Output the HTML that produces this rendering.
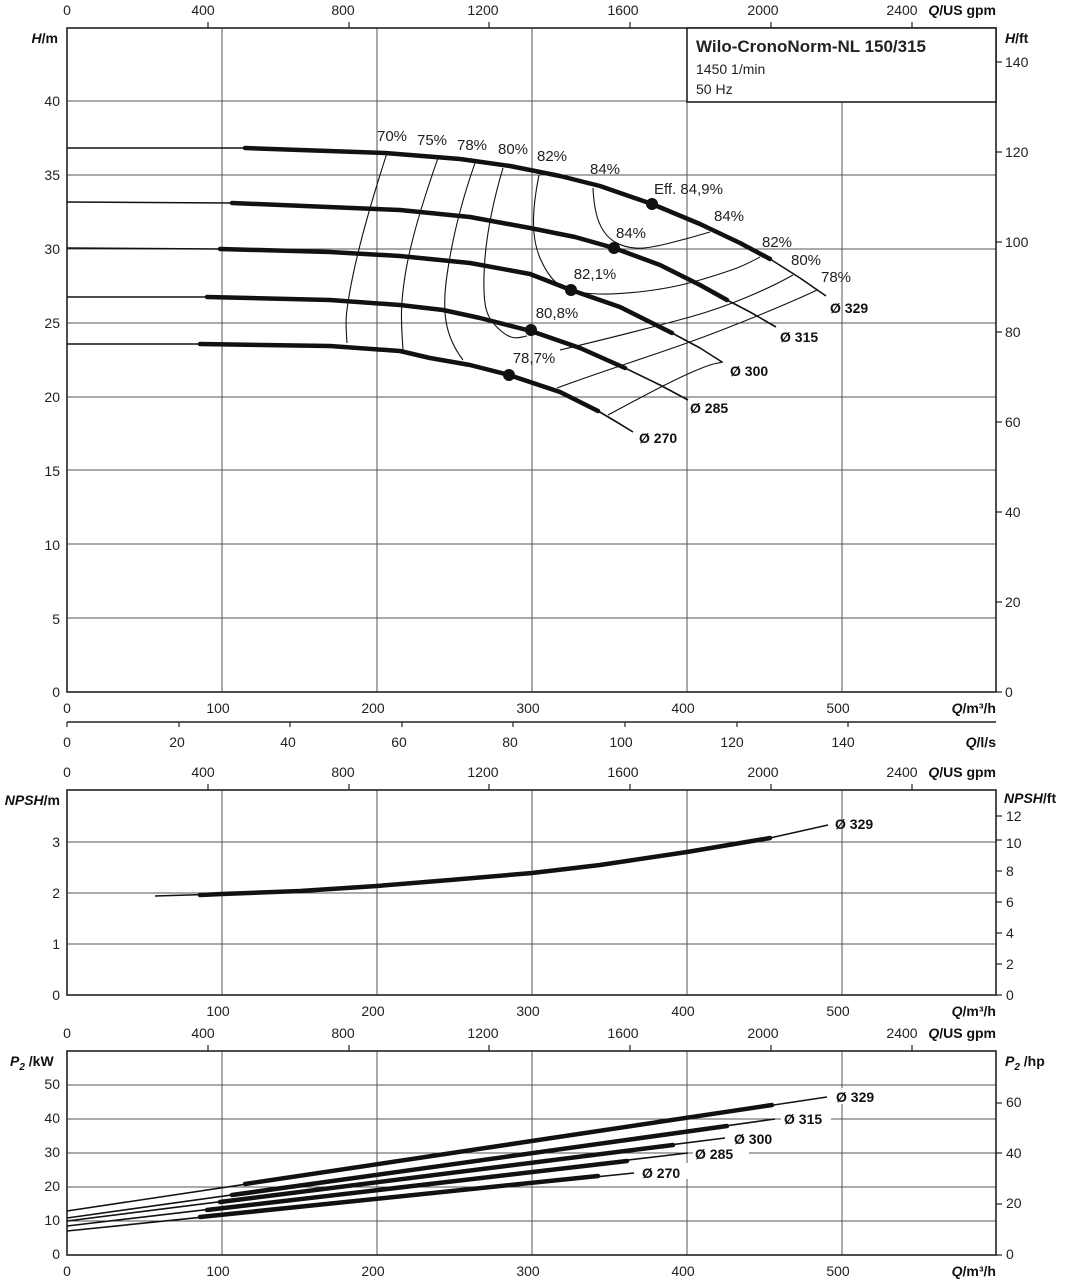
<!DOCTYPE html>
<html><head><meta charset="utf-8"><style>
html,body{margin:0;padding:0;background:#fff}
svg{display:block;font-family:"Liberation Sans","DejaVu Sans",sans-serif}
.g{stroke:#555;stroke-width:1;fill:none}
.ax{stroke:#222;stroke-width:1.6;fill:none}
.t{font-size:14px;fill:#222}
.b{font-size:14px;fill:#111;font-weight:bold}
.th{stroke:#111;stroke-width:1.6;fill:none;stroke-linejoin:round}
.tk{stroke:#111;stroke-width:4.5;fill:none;stroke-linejoin:round;stroke-linecap:round}
.e{stroke:#111;stroke-width:1.1;fill:none;stroke-linejoin:round}
</style></head><body>
<svg width="1065" height="1280" viewBox="0 0 1065 1280">
<!-- ================= MAIN H chart ================= -->
<g class="g">
<line x1="222" y1="28" x2="222" y2="692"/><line x1="377" y1="28" x2="377" y2="692"/><line x1="532" y1="28" x2="532" y2="692"/><line x1="687" y1="28" x2="687" y2="692"/><line x1="842" y1="102" x2="842" y2="692"/>
<line x1="67" y1="618" x2="996" y2="618"/><line x1="67" y1="544" x2="996" y2="544"/><line x1="67" y1="470" x2="996" y2="470"/><line x1="67" y1="397" x2="996" y2="397"/><line x1="67" y1="323" x2="996" y2="323"/><line x1="67" y1="249" x2="996" y2="249"/><line x1="67" y1="175" x2="996" y2="175"/><line x1="67" y1="101" x2="996" y2="101"/>
</g>
<rect x="67" y="28" width="929" height="664" class="ax"/>
<rect x="687" y="28" width="309" height="74" fill="#fff" stroke="#222" stroke-width="1.6"/>
<text x="696" y="52" style="font-size:17px;font-weight:bold;fill:#222">Wilo-CronoNorm-NL 150/315</text>
<text x="696" y="74" class="t">1450 1/min</text>
<text x="696" y="94" class="t">50 Hz</text>
<g class="ax" style="stroke-width:1.2"><line x1="208" y1="22" x2="208" y2="28"/><line x1="349" y1="22" x2="349" y2="28"/><line x1="489" y1="22" x2="489" y2="28"/><line x1="630" y1="22" x2="630" y2="28"/><line x1="771" y1="22" x2="771" y2="28"/><line x1="912" y1="22" x2="912" y2="28"/>
<line x1="996" y1="62" x2="1002" y2="62"/><line x1="996" y1="152" x2="1002" y2="152"/><line x1="996" y1="242" x2="1002" y2="242"/><line x1="996" y1="332" x2="1002" y2="332"/><line x1="996" y1="422" x2="1002" y2="422"/><line x1="996" y1="512" x2="1002" y2="512"/><line x1="996" y1="602" x2="1002" y2="602"/><line x1="996" y1="692" x2="1002" y2="692"/></g>
<g class="t" text-anchor="middle"><text x="67" y="15">0</text><text x="203" y="15">400</text><text x="343" y="15">800</text><text x="483" y="15">1200</text><text x="623" y="15">1600</text><text x="763" y="15">2000</text><text x="902" y="15">2400</text></g>
<text x="996" y="15" class="b" text-anchor="end"><tspan font-style="italic">Q</tspan>/US gpm</text>
<text x="58" y="43" class="b" text-anchor="end"><tspan font-style="italic">H</tspan>/m</text>
<text x="1005" y="43" class="b"><tspan font-style="italic">H</tspan>/ft</text>
<g class="t" text-anchor="end"><text x="60" y="697">0</text><text x="60" y="624">5</text><text x="60" y="550">10</text><text x="60" y="476">15</text><text x="60" y="402">20</text><text x="60" y="328">25</text><text x="60" y="254">30</text><text x="60" y="180">35</text><text x="60" y="106">40</text></g>
<g class="t"><text x="1005" y="697">0</text><text x="1005" y="607">20</text><text x="1005" y="517">40</text><text x="1005" y="427">60</text><text x="1005" y="337">80</text><text x="1005" y="247">100</text><text x="1005" y="157">120</text><text x="1005" y="67">140</text></g>
<g class="t" text-anchor="middle"><text x="67" y="713">0</text><text x="218" y="713">100</text><text x="373" y="713">200</text><text x="528" y="713">300</text><text x="683" y="713">400</text><text x="838" y="713">500</text></g>
<text x="996" y="713" class="b" text-anchor="end"><tspan font-style="italic">Q</tspan>/m³/h</text>
<line x1="67" y1="722" x2="996" y2="722" class="ax"/>
<g class="ax" style="stroke-width:1.2"><line x1="67" y1="722" x2="67" y2="727"/><line x1="179" y1="722" x2="179" y2="727"/><line x1="290" y1="722" x2="290" y2="727"/><line x1="402" y1="722" x2="402" y2="727"/><line x1="513" y1="722" x2="513" y2="727"/><line x1="625" y1="722" x2="625" y2="727"/><line x1="737" y1="722" x2="737" y2="727"/><line x1="848" y1="722" x2="848" y2="727"/></g>
<g class="t" text-anchor="middle"><text x="67" y="747">0</text><text x="177" y="747">20</text><text x="288" y="747">40</text><text x="399" y="747">60</text><text x="510" y="747">80</text><text x="621" y="747">100</text><text x="732" y="747">120</text><text x="843" y="747">140</text></g>
<text x="996" y="747" class="b" text-anchor="end"><tspan font-style="italic">Q</tspan>/l/s</text>

<g class="e">
<path d="M387,153 C375,190 360,240 352,280 S346,325 347,343"/>
<path d="M438,158 C425,195 412,235 406,270 S401,320 403,350"/>
<path d="M475,163 C462,200 452,240 447,275 S444,335 463,360"/>
<path d="M503,168 C492,205 485,240 484,275 S487,318 500,330 S520,337 527,336"/>
<path d="M539,175 C533,205 530,235 540,258 S560,290 585,293 S660,292 700,280 S745,265 760,257"/>
<path d="M593,188 C594,210 598,232 615,242 S650,248 670,243 S700,235 710,232"/>
<path d="M560,350 C610,338 650,328 690,317 S770,288 793,275"/>
<path d="M557,388 C600,372 645,358 687,343 S790,303 817,290"/>
<path d="M608,415 C640,398 665,384 690,373 S715,364 723,362"/>
</g>
<g class="th">
<polyline points="67,148 245,148 385,153 460,159 510,166 560,176 600,186 652,204 700,224 740,243 770,259 800,278 826,296"/>
<polyline points="67,202 232,203 400,210 470,217 530,228 575,237 614,248 660,265 700,285 727,300 750,312 776,327"/>
<polyline points="67,248 220,249 330,252 400,256 470,263 530,274 571,290 620,307 672,333 700,348 722,362"/>
<polyline points="67,297 207,297 330,300 400,305 443,310 480,318 531,331 580,348 625,368 660,385 688,400"/>
<polyline points="67,344 200,344 330,346 400,351 430,358 470,365 509,375 560,392 598,411 615,421 633,432"/>
</g>
<g class="tk">
<polyline points="245,148 385,153 460,159 510,166 560,176 600,186 652,204 700,224 740,243 770,259"/>
<polyline points="232,203 400,210 470,217 530,228 575,237 614,248 660,265 700,285 727,300"/>
<polyline points="220,249 330,252 400,256 470,263 530,274 571,290 620,307 672,333"/>
<polyline points="207,297 330,300 400,305 443,310 480,318 531,331 580,348 625,368"/>
<polyline points="200,344 330,346 400,351 430,358 470,365 509,375 560,392 598,411"/>
</g>
<g fill="#111"><circle cx="652" cy="204" r="6"/><circle cx="614" cy="248" r="6"/><circle cx="571" cy="290" r="6"/><circle cx="531" cy="330" r="6"/><circle cx="509" cy="375" r="6"/></g>
<g class="t" text-anchor="middle" style="font-size:15px">
<text x="392" y="141">70%</text><text x="432" y="145">75%</text><text x="472" y="150">78%</text><text x="513" y="154">80%</text><text x="552" y="161">82%</text><text x="605" y="174">84%</text>
<text x="729" y="221">84%</text><text x="631" y="238">84%</text><text x="777" y="247">82%</text><text x="806" y="265">80%</text><text x="836" y="282">78%</text>
<text x="595" y="279">82,1%</text><text x="557" y="318">80,8%</text><text x="534" y="363">78,7%</text>
</g>
<text x="654" y="194" class="t" style="font-size:15px">Eff.  84,9%</text>
<g class="b"><text x="830" y="313">Ø 329</text><text x="780" y="342">Ø 315</text><text x="730" y="376">Ø 300</text><text x="690" y="413">Ø 285</text><text x="639" y="443">Ø 270</text></g>

<!-- ================= NPSH chart ================= -->
<g class="g">
<line x1="222" y1="790" x2="222" y2="995"/><line x1="377" y1="790" x2="377" y2="995"/><line x1="532" y1="790" x2="532" y2="995"/><line x1="687" y1="790" x2="687" y2="995"/><line x1="842" y1="790" x2="842" y2="995"/>
<line x1="67" y1="944" x2="996" y2="944"/><line x1="67" y1="893" x2="996" y2="893"/><line x1="67" y1="842" x2="996" y2="842"/>
</g>
<rect x="67" y="790" width="929" height="205" class="ax"/>
<g class="ax" style="stroke-width:1.2"><line x1="208" y1="784" x2="208" y2="790"/><line x1="349" y1="784" x2="349" y2="790"/><line x1="489" y1="784" x2="489" y2="790"/><line x1="630" y1="784" x2="630" y2="790"/><line x1="771" y1="784" x2="771" y2="790"/><line x1="912" y1="784" x2="912" y2="790"/>
<line x1="996" y1="995" x2="1002" y2="995"/><line x1="996" y1="964" x2="1002" y2="964"/><line x1="996" y1="933" x2="1002" y2="933"/><line x1="996" y1="902" x2="1002" y2="902"/><line x1="996" y1="871" x2="1002" y2="871"/><line x1="996" y1="840" x2="1002" y2="840"/><line x1="996" y1="816" x2="1002" y2="816"/></g>
<g class="t" text-anchor="middle"><text x="67" y="777">0</text><text x="203" y="777">400</text><text x="343" y="777">800</text><text x="483" y="777">1200</text><text x="623" y="777">1600</text><text x="763" y="777">2000</text><text x="902" y="777">2400</text></g>
<text x="996" y="777" class="b" text-anchor="end"><tspan font-style="italic">Q</tspan>/US gpm</text>
<text x="60" y="805" class="b" text-anchor="end"><tspan font-style="italic">NPSH</tspan>/m</text>
<text x="1004" y="803" class="b"><tspan font-style="italic">NPSH</tspan>/ft</text>
<g class="t"><text x="1006" y="1000">0</text><text x="1006" y="969">2</text><text x="1006" y="938">4</text><text x="1006" y="907">6</text><text x="1006" y="876">8</text><text x="1006" y="848">10</text><text x="1006" y="821">12</text></g>
<g class="t" text-anchor="end"><text x="60" y="1000">0</text><text x="60" y="949">1</text><text x="60" y="898">2</text><text x="60" y="847">3</text></g>
<g class="t" text-anchor="middle"><text x="218" y="1016">100</text><text x="373" y="1016">200</text><text x="528" y="1016">300</text><text x="683" y="1016">400</text><text x="838" y="1016">500</text></g>
<text x="996" y="1016" class="b" text-anchor="end"><tspan font-style="italic">Q</tspan>/m³/h</text>
<polyline class="th" points="155,896 222,894 300,891 377,886 450,880 532,873 600,865 687,852 770,838 828,825"/>
<polyline class="tk" points="200,895 222,894 300,891 377,886 450,880 532,873 600,865 687,852 770,838"/>
<text x="835" y="829" class="b">Ø 329</text>

<!-- ================= P2 chart ================= -->
<g class="g">
<line x1="222" y1="1051" x2="222" y2="1255"/><line x1="377" y1="1051" x2="377" y2="1255"/><line x1="532" y1="1051" x2="532" y2="1255"/><line x1="687" y1="1051" x2="687" y2="1255"/><line x1="842" y1="1051" x2="842" y2="1255"/>
<line x1="67" y1="1221" x2="996" y2="1221"/><line x1="67" y1="1187" x2="996" y2="1187"/><line x1="67" y1="1153" x2="996" y2="1153"/><line x1="67" y1="1119" x2="996" y2="1119"/><line x1="67" y1="1085" x2="996" y2="1085"/>
</g>
<rect x="67" y="1051" width="929" height="204" class="ax"/>
<g class="ax" style="stroke-width:1.2"><line x1="208" y1="1045" x2="208" y2="1051"/><line x1="349" y1="1045" x2="349" y2="1051"/><line x1="489" y1="1045" x2="489" y2="1051"/><line x1="630" y1="1045" x2="630" y2="1051"/><line x1="771" y1="1045" x2="771" y2="1051"/><line x1="912" y1="1045" x2="912" y2="1051"/>
<line x1="996" y1="1255" x2="1002" y2="1255"/><line x1="996" y1="1204" x2="1002" y2="1204"/><line x1="996" y1="1153" x2="1002" y2="1153"/><line x1="996" y1="1103" x2="1002" y2="1103"/></g>
<g class="t" text-anchor="middle"><text x="67" y="1038">0</text><text x="203" y="1038">400</text><text x="343" y="1038">800</text><text x="483" y="1038">1200</text><text x="623" y="1038">1600</text><text x="763" y="1038">2000</text><text x="902" y="1038">2400</text></g>
<text x="996" y="1038" class="b" text-anchor="end"><tspan font-style="italic">Q</tspan>/US gpm</text>
<text x="10" y="1066" class="b"><tspan font-style="italic">P</tspan><tspan font-style="italic" font-size="10" dy="4">2</tspan><tspan dy="-4"> /kW</tspan></text>
<text x="1005" y="1066" class="b"><tspan font-style="italic">P</tspan><tspan font-style="italic" font-size="10" dy="4">2</tspan><tspan dy="-4"> /hp</tspan></text>
<g class="t" text-anchor="end"><text x="60" y="1259">0</text><text x="60" y="1225">10</text><text x="60" y="1191">20</text><text x="60" y="1157">30</text><text x="60" y="1123">40</text><text x="60" y="1089">50</text></g>
<g class="t"><text x="1006" y="1259">0</text><text x="1006" y="1208">20</text><text x="1006" y="1158">40</text><text x="1006" y="1107">60</text></g>
<g class="t" text-anchor="middle"><text x="67" y="1276">0</text><text x="218" y="1276">100</text><text x="373" y="1276">200</text><text x="528" y="1276">300</text><text x="683" y="1276">400</text><text x="838" y="1276">500</text></g>
<text x="996" y="1276" class="b" text-anchor="end"><tspan font-style="italic">Q</tspan>/m³/h</text>
<g class="th">
<line x1="67" y1="1211" x2="827" y2="1097"/>
<line x1="67" y1="1218" x2="775" y2="1119"/>
<line x1="67" y1="1221" x2="725" y2="1138"/>
<line x1="67" y1="1226" x2="688" y2="1153"/>
<line x1="67" y1="1231" x2="634" y2="1173"/>
</g>
<g class="tk">
<line x1="245" y1="1184" x2="772" y2="1105"/>
<line x1="232" y1="1195" x2="727" y2="1126"/>
<line x1="220" y1="1202" x2="673" y2="1145"/>
<line x1="207" y1="1210" x2="627" y2="1161"/>
<line x1="200" y1="1217" x2="598" y2="1176"/>
</g>
<g fill="#fff"><rect x="834" y="1088" width="50" height="16"/><rect x="781" y="1110" width="50" height="16"/><rect x="731" y="1130" width="50" height="16"/><rect x="693" y="1145" width="56" height="16"/><rect x="640" y="1163" width="50" height="16"/></g>
<g class="b"><text x="836" y="1102">Ø 329</text><text x="784" y="1124">Ø 315</text><text x="734" y="1144">Ø 300</text><text x="695" y="1159">Ø 285</text><text x="642" y="1178">Ø 270</text></g>
</svg>
</body></html>
